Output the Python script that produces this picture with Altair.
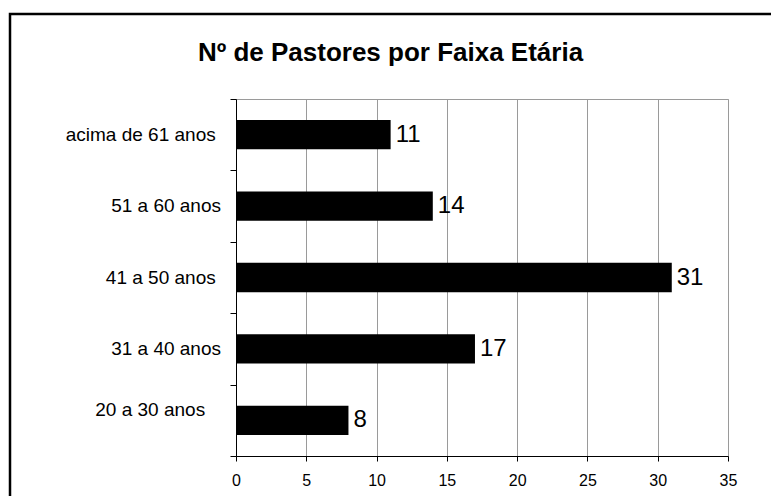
import altair as alt
import pandas as pd

categories = ["acima de 61 anos", "51 a 60 anos", "41 a 50 anos", "31 a 40 anos", "20 a 30 anos"]
counts = [11, 14, 31, 17, 8]
NB = "\u00a0"
END = "\u200b"  # zero-width end mark so that the trailing spaces are not trimmed
# category labels as typed in the source (some carry trailing spaces)
display_labels = [
    "acima de 61 anos" + NB + END,
    "51 a 60 anos",
    "41 a 50 anos" + NB + END,
    "31 a 40 anos",
    "20 a 30 anos" + NB * 3 + END,
]
# labels that sit one half line higher in the source (they carry an empty second line)
raised = ["20 a 30 anos"]
x_ticks = [0, 5, 10, 15, 20, 25, 30, 35]
title_text = "Nº de Pastores por Faixa Etária"

df = pd.DataFrame({"faixa": categories, "n": counts, "lab": display_labels})

FONT = "Liberation Sans"

y_enc = alt.Y(
    "faixa:N", sort=categories, title=None,
    scale=alt.Scale(paddingInner=0, paddingOuter=0),
    axis=alt.Axis(tickBand="extent", ticks=True, tickSize=6, tickColor="black",
                  domainColor="black", labels=False, grid=False),
)
x_enc = alt.X(
    "n:Q", title=None,
    scale=alt.Scale(domain=[0, 35], nice=False, zero=True),
    axis=alt.Axis(values=x_ticks, tickSize=5, tickColor="black", domainColor="black",
                  gridColor="#9a9a9a", grid=True, labelFont=FONT, labelFontSize=16,
                  labelColor="black", labelPadding=24, labelBaseline="alphabetic",
                  labelFlush=False, labelOverlap=False),
)

bars = alt.Chart(df).mark_bar(color="black", height={"band": 0.41}).encode(x=x_enc, y=y_enc)
labels = alt.Chart(df).mark_text(
    align="left", baseline="middle", dx=5, font=FONT, fontSize=24, color="black"
).encode(x=x_enc, y=y_enc, text="n:Q")

raised_test = " || ".join(f"datum.faixa == '{r}'" for r in raised)
cat_labels = alt.Chart(df).transform_filter(f"!({raised_test})").mark_text(
    align="right", baseline="middle", font=FONT, fontSize=19, color="black"
).encode(x=alt.value(-15), y=y_enc, text="lab:N")
cat_labels_raised = alt.Chart(df).transform_filter(raised_test).mark_text(
    align="right", baseline="middle", font=FONT, fontSize=19, color="black", dy=-10
).encode(x=alt.value(-15), y=y_enc, text="lab:N")

border = alt.Chart(alt.Data(values=[{}])).mark_rect(
    filled=False, stroke="black", strokeWidth=2.5
).encode(x=alt.value(-226), x2=alt.value(560), y=alt.value(-85), y2=alt.value(520))
title = alt.Chart(alt.Data(values=[{}])).mark_text(
    font=FONT, fontSize=26, fontWeight="bold", color="black",
    align="center", baseline="alphabetic"
).encode(x=alt.value(154.5), y=alt.value(-38), text=alt.value(title_text))

chart = alt.layer(border, title, bars, labels, cat_labels, cat_labels_raised).properties(
    width=492, height=357,
    autosize=alt.AutoSizeParams(type="none"),
    padding={"left": 228, "top": 91, "right": 43, "bottom": 40},
).configure_view(stroke="#9a9a9a")

chart.save("out.html", embed_options={"renderer": "svg", "actions": False})
